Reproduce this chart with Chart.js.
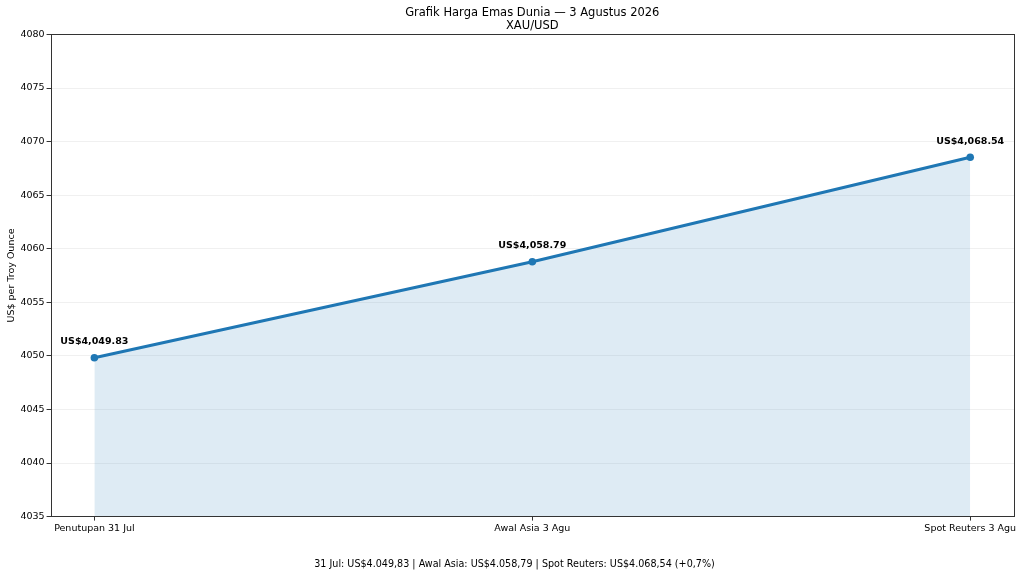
<!DOCTYPE html>
<html>
<head>
<meta charset="utf-8">
<script src="https://cdn.jsdelivr.net/npm/chart.js@4/dist/chart.umd.min.js"></script>
<style>
  html, body { margin: 0; padding: 0; background: #fff; }
  #wrap { width: 1024px; height: 576px; }
</style>
</head>
<body>
<div id="wrap"><canvas id="chart" width="1024" height="576"></canvas></div>
<script>
// data
const categories = ['Penutupan 31 Jul', 'Awal Asia 3 Agu', 'Spot Reuters 3 Agu'];
const prices = [4049.83, 4058.79, 4068.54];
const pointLabels = ['US$4,049.83', 'US$4,058.79', 'US$4,068.54'];
const yTicks = [4035, 4040, 4045, 4050, 4055, 4060, 4065, 4070, 4075, 4080];
const footerText = '31 Jul: US$4.049,83 | Awal Asia: US$4.058,79 | Spot Reuters: US$4.068,54 (+0,7%)';

const FONT = "'DejaVu Sans', sans-serif";
const BLUE = '#1f77b4';

// labels above the points
const valueLabels = {
    id: 'valueLabels',
    afterDatasetsDraw(chart) {
        const ctx = chart.ctx;
        const meta = chart.getDatasetMeta(0);
        ctx.save();
        ctx.font = 'bold 9.5px ' + FONT;
        ctx.fillStyle = '#000';
        ctx.textAlign = 'center';
        ctx.textBaseline = 'middle';
        meta.data.forEach((pt, i) => {
            ctx.fillText(pointLabels[i], pt.x, pt.y - 16);
        });
        ctx.restore();
    }
};

// box round the plot like matplotlib spines, plus the footer line
const frame = {
    id: 'frame',
    afterDraw(chart) {
        const a = chart.chartArea;
        const ctx = chart.ctx;
        ctx.save();
        ctx.strokeStyle = '#333';
        ctx.lineWidth = 1;
        ctx.strokeRect(Math.round(a.left) + 0.5, Math.round(a.top) + 0.5,
            Math.round(a.right - a.left), Math.round(a.bottom - a.top));
        ctx.font = '9.6px ' + FONT;
        ctx.fillStyle = '#000';
        ctx.textAlign = 'center';
        ctx.textBaseline = 'middle';
        ctx.fillText(footerText, 514.5, 564);
        ctx.restore();
    }
};

const noPad = (scale) => {
    scale.paddingLeft = 0;
    scale.paddingRight = 0;
    scale.paddingTop = 0;
    scale.paddingBottom = 0;
};

new Chart(document.getElementById('chart'), {
    type: 'line',
    data: {
        datasets: [{
            data: prices.map((v, i) => ({ x: i, y: v })),
            borderColor: BLUE,
            borderWidth: 3,
            backgroundColor: 'rgba(31,119,180,0.15)',
            fill: 'start',
            tension: 0,
            pointRadius: 3.8,
            pointBackgroundColor: BLUE,
            pointBorderColor: BLUE,
            pointBorderWidth: 0
        }]
    },
    options: {
        responsive: false,
        animation: false,
        devicePixelRatio: 1,
        layout: { padding: { left: 6, right: 10, top: 0, bottom: 40 } },
        plugins: {
            legend: { display: false },
            tooltip: { enabled: false },
            title: {
                display: true,
                text: ['Grafik Harga Emas Dunia — 3 Agustus 2026', 'XAU/USD'],
                fullSize: false,
                color: '#000',
                font: { family: FONT, size: 11.5, weight: 'normal', lineHeight: 1.15 },
                padding: { top: 6, bottom: 2 }
            }
        },
        scales: {
            x: {
                type: 'linear',
                min: -0.1,
                max: 2.1,
                afterBuildTicks: (scale) => {
                    scale.ticks = categories.map((c, i) => ({ value: i }));
                },
                afterFit: noPad,
                border: { display: false },
                grid: {
                    drawOnChartArea: false,
                    tickColor: '#333',
                    tickLength: 4
                },
                ticks: {
                    autoSkip: false,
                    maxRotation: 0,
                    padding: 2,
                    color: '#000',
                    font: { family: FONT, size: 9.5 },
                    callback: (v) => categories[v]
                }
            },
            y: {
                min: 4035,
                max: 4080,
                afterBuildTicks: (scale) => {
                    scale.ticks = yTicks.map(v => ({ value: v }));
                },
                afterFit: noPad,
                border: { display: false },
                grid: {
                    color: 'rgba(0,0,0,0.06)',
                    tickColor: '#333',
                    tickLength: 4
                },
                title: {
                    display: true,
                    text: 'US$ per Troy Ounce',
                    color: '#000',
                    font: { family: FONT, size: 9.5 },
                    padding: { top: 0, bottom: 1 }
                },
                ticks: {
                    padding: 2,
                    color: '#000',
                    font: { family: FONT, size: 9.5 },
                    callback: (v) => String(v)
                }
            }
        }
    },
    plugins: [valueLabels, frame]
});
</script>
</body>
</html>
